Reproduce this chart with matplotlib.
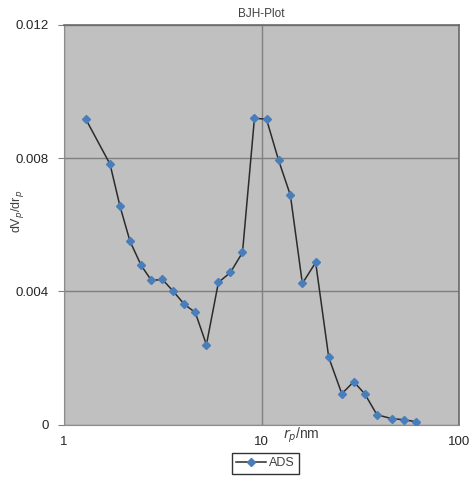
import numpy as np
import matplotlib
matplotlib.use("Agg")
import matplotlib.pyplot as plt

# BJH pore size distribution, adsorption branch
r_p = [1.29, 1.71, 1.92, 2.16, 2.46, 2.77, 3.15, 3.58, 4.07, 4.62, 5.26,
       6.05, 6.96, 8.01, 9.21, 10.6, 12.2, 14.0, 16.1, 18.8, 21.9, 25.5,
       29.3, 33.3, 38.4, 45.7, 52.6, 60.5]
dv_dr = [0.00917, 0.00782, 0.00656, 0.00550, 0.00478, 0.00433, 0.00436,
         0.00400, 0.00361, 0.00337, 0.00240, 0.00427, 0.00457, 0.00517,
         0.00920, 0.00917, 0.00794, 0.00689, 0.00424, 0.00487, 0.00202,
         0.00093, 0.00129, 0.00093, 0.00030, 0.00018, 0.00015, 0.00009]
y_ticks = [0, 0.004, 0.008, 0.012]
y_tick_labels = ["0", "0.004", "0.008", "0.012"]
x_ticks = [1, 10, 100]
x_tick_labels = ["1", "10", "100"]

plt.rcParams['font.family'] = ['Liberation Sans', 'DejaVu Sans']

fig = plt.figure(figsize=(4.76, 4.8), dpi=100)
ax = fig.add_axes([0.1345, 0.1152, 0.8298, 0.8328])
ax.set_facecolor("#c0c0c0")

ax.plot(r_p, dv_dr, color="#2b2b2b", lw=1.1, marker="D", ms=3.6,
        mfc="#4a7ebb", mec="#4a7ebb", label="ADS", zorder=3)

ax.set_xscale("log")
ax.set_xlim(1, 100)
ax.set_ylim(0, 0.012)
ax.set_xticks(x_ticks)
ax.set_xticklabels(x_tick_labels)
ax.xaxis.set_minor_locator(matplotlib.ticker.NullLocator())
ax.set_yticks(y_ticks)
ax.set_yticklabels(y_tick_labels)
ax.tick_params(axis="y", length=4, color="#808080", labelsize=9.5,
               labelcolor="#262626", pad=7)
ax.tick_params(axis="x", length=0, labelsize=9.5, labelcolor="#262626", pad=8)

ax.grid(True, color="#7f7f7f", lw=1.0, zorder=1)
ax.set_axisbelow(True)
for side in ["left", "bottom"]:
    ax.spines[side].set_color("#8c8c8c")
for side in ["top", "right"]:
    ax.spines[side].set_color("#6a6a6a")
    ax.spines[side].set_linewidth(1.2)

ax.set_title("BJH-Plot", fontsize=8.5, color="#404040", pad=6)
fig.text(0.036, 0.56, r"dV$_p$/dr$_p$", rotation=90, fontsize=9,
         color="#404040", ha="center", va="center")
fig.text(0.632, 0.092, r"$r_p$/nm", fontsize=10, color="#404040",
         ha="center", va="center")

leg = fig.legend(loc="center", bbox_to_anchor=(0.557, 0.035), fontsize=9,
                 frameon=True, fancybox=False, edgecolor="#000000",
                 handlelength=2.4, borderpad=0.35, handletextpad=0.2)
leg.get_frame().set_linewidth(1.0)
for t in leg.get_texts():
    t.set_color("#404040")

fig.savefig("out.png", dpi=100)
